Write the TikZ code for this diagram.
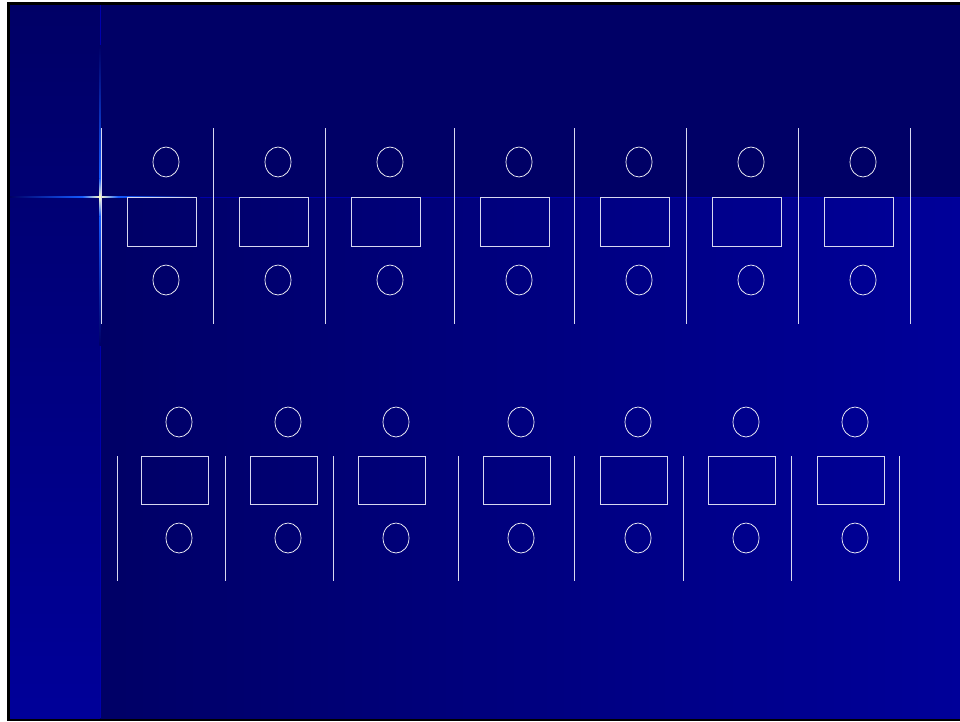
\documentclass[tikz,border=0pt]{standalone}
\definecolor{navy}{RGB}{0,0,102}
\definecolor{royal}{RGB}{0,0,153}
\definecolor{glow}{RGB}{20,90,255}
\definecolor{seatline}{RGB}{215,215,240}

\tikzset{
  aisle/.style={draw=seatline, line width=0.8pt},
  chair/.style={draw=white, line width=0.7pt},
  desk/.style={draw=seatline, line width=0.8pt}
}

\begin{document}
\begin{tikzpicture}[x=1pt,y=-1pt]
\useasboundingbox (0,0) rectangle (960,721);

% slide background
\fill[white] (0,0) rectangle (960,721);
\fill[black] (7,2) rectangle (960,721);
\shade[top color=navy, bottom color=royal] (10,5) rectangle (100,718);
\fill[navy] (100,5) rectangle (960,197);
\shade[left color=navy, right color=royal] (100,197) rectangle (960,718);
\draw[royal!80!blue, line width=0.8pt] (100,5) -- (100,718);
\draw[royal!80!blue, line width=0.8pt] (100,197) -- (960,197);

% sparkle
\shade[left color=navy, right color=glow] (10,196.3) rectangle (82,197.8);
\shade[left color=glow, right color=yellow!20!white] (82,196.3) rectangle (100,197.8);
\shade[left color=yellow!20!white, right color=glow] (100,196.3) rectangle (118,197.8);
\shade[left color=glow, right color=navy] (118,196.3) rectangle (200,197.8);
\shade[top color=navy, bottom color=glow] (99.3,45) rectangle (100.9,178);
\shade[top color=glow, bottom color=yellow!20!white] (99.3,178) rectangle (100.9,197);
\shade[top color=yellow!20!white, bottom color=glow] (99.3,197) rectangle (100.9,216);
\shade[top color=glow, bottom color=navy] (99.3,216) rectangle (100.9,345);
\fill[yellow!25!white] (100.1,197) circle (1.3pt);

% upper rows
\foreach \x in {101,213,325,454,574,686,798,910}
  \draw[aisle] (\x,128) -- (\x,324);
\foreach \x in {127,239,351,480,600,712,824} {
  \draw[chair] (\x+39,162) ellipse [x radius=13pt, y radius=15pt];
  \draw[desk] (\x,197) rectangle ++(69,49);
  \draw[chair] (\x+39,280) ellipse [x radius=13pt, y radius=15pt];
}

% lower rows
\foreach \x in {117,225,333,458,574,683,791,899}
  \draw[aisle] (\x,456) -- (\x,581);
\foreach \x in {141,250,358,483,600,708,817} {
  \draw[chair] (\x+38,422) ellipse [x radius=13pt, y radius=15pt];
  \draw[desk] (\x,456) rectangle ++(67,48);
  \draw[chair] (\x+38,538) ellipse [x radius=13pt, y radius=15pt];
}

\end{tikzpicture}
\end{document}
